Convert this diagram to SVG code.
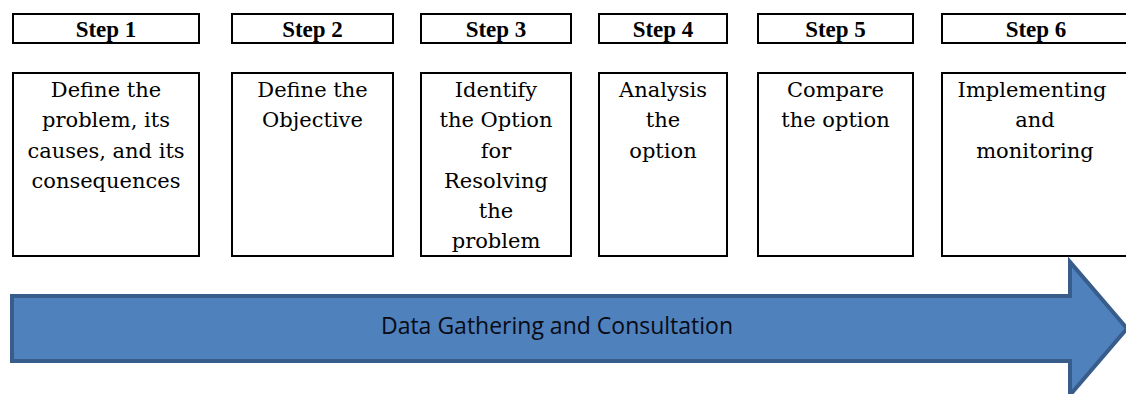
<svg xmlns="http://www.w3.org/2000/svg" width="1126" height="394" viewBox="0 0 1126 394">
  <style>
    .box { fill: #ffffff; stroke: #000000; stroke-width: 2; }
    .head { font-family: "Liberation Serif", "Times New Roman", serif; font-weight: bold; font-size: 23px; fill: #000000; text-anchor: middle; }
    .body { font-family: "DejaVu Serif", "Liberation Serif", serif; font-size: 21px; fill: #000000; text-anchor: middle; }
    .band { fill: #4F81BD; stroke: #385D8A; stroke-width: 4; stroke-linejoin: miter; }
    .bandText { font-family: "Open Sans", "Liberation Sans", sans-serif; font-size: 23px; fill: #0a0a14; text-anchor: middle; }
  </style>

  <g id="step1">
    <rect class="box" x="13" y="14" width="186" height="29"/>
    <text class="head" x="106" y="37">Step 1</text>
    <rect class="box" x="13" y="73" width="186" height="183"/>
    <text class="body" x="106" y="97">Define the</text>
    <text class="body" x="106" y="127">problem, its</text>
    <text class="body" x="106" y="158">causes, and its</text>
    <text class="body" x="106" y="188">consequences</text>
  </g>

  <g id="step2">
    <rect class="box" x="232" y="14" width="161" height="29"/>
    <text class="head" x="312.5" y="37">Step 2</text>
    <rect class="box" x="232" y="73" width="161" height="183"/>
    <text class="body" x="312.5" y="97">Define the</text>
    <text class="body" x="312.5" y="127">Objective</text>
  </g>

  <g id="step3">
    <rect class="box" x="421" y="14" width="150" height="29"/>
    <text class="head" x="496" y="37">Step 3</text>
    <rect class="box" x="421" y="73" width="150" height="183"/>
    <text class="body" x="496" y="97">Identify</text>
    <text class="body" x="496" y="127">the Option</text>
    <text class="body" x="496" y="158">for</text>
    <text class="body" x="496" y="188">Resolving</text>
    <text class="body" x="496" y="218">the</text>
    <text class="body" x="496" y="248">problem</text>
  </g>

  <g id="step4">
    <rect class="box" x="599" y="14" width="128" height="29"/>
    <text class="head" x="663" y="37">Step 4</text>
    <rect class="box" x="599" y="73" width="128" height="183"/>
    <text class="body" x="663" y="97">Analysis</text>
    <text class="body" x="663" y="127">the</text>
    <text class="body" x="663" y="158">option</text>
  </g>

  <g id="step5">
    <rect class="box" x="758" y="14" width="155" height="29"/>
    <text class="head" x="835.5" y="37">Step 5</text>
    <rect class="box" x="758" y="73" width="155" height="183"/>
    <text class="body" x="835.5" y="97">Compare</text>
    <text class="body" x="835.5" y="127">the option</text>
  </g>

  <g id="step6">
    <rect class="box" x="942" y="14" width="190" height="29"/>
    <text class="head" x="1036" y="37">Step 6</text>
    <rect class="box" x="942" y="73" width="190" height="183"/>
    <text class="body" x="1032" y="97">Implementing</text>
    <text class="body" x="1035" y="127">and</text>
    <text class="body" x="1035" y="158">monitoring</text>
  </g>

  <g id="connectors">
    <g id="data-gathering">
      <path class="band" d="M12,296 L1070,296 L1070,262 L1127,328.5 L1070,395 L1070,361 L12,361 Z"/>
      <text class="bandText" x="557" y="334">Data Gathering and Consultation</text>
    </g>
  </g>
</svg>
